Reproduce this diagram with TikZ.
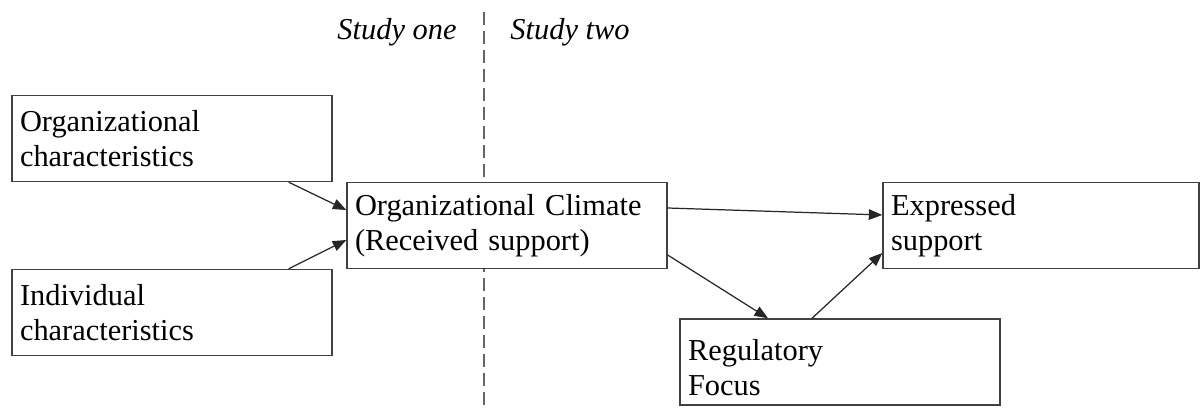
\documentclass[tikz,border=0pt]{standalone}
\usepackage{fontspec}
\setmainfont{Liberation Serif}
\usetikzlibrary{arrows.meta}

\begin{document}
\begin{tikzpicture}[x=0.02cm, y=-0.02cm,
        box/.style={rectangle, draw=black!75, line width=0.8pt, fill=white, minimum height=1.72cm, text width=6.08cm, inner xsep=0.16cm, align=left, font=\fontsize{17.3}{20}\selectfont},
        study/.style={font=\itshape\fontsize{17.3}{20}\selectfont},
        link/.style={-{Triangle[length=0.27cm, width=0.21cm]}, line width=0.7pt, black!85}]

            % Fix the size of the picture
            \useasboundingbox (0,0) rectangle (1201,408);

            % Draw the line between the two studies
            \coordinate (divtop) at (484,12);
            \coordinate (divbot) at (484,408);
            \draw[black!60, line width=0.8pt, dash pattern=on 0.26cm off 0.12cm] (divtop) -- (divbot);

            \node[study] (one) at (397,32) {Study one};
            \node[study] (two) at (570,32) {Study two};

            % Draw the boxes
            \node[box] (orgchar) at (172,138.5) {Organizational\\characteristics};
            \node[box] (indchar) at (172,312.5) {Individual\\characteristics};
            \node[box] (climate) at (507,225.5) {Organizational Climate\\(Received support)};
            \node[box, text width=6.0cm] (expressed) at (1041,225.5) {Expressed\\support};
            \node[box] (focus) at (840,362) {\rule{0pt}{18.5pt}Regulatory\\Focus};

            % Draw the arrows
            \draw[link] ([xshift=-0.88cm]orgchar.south east) -- ([yshift=0.31cm]climate.west);
            \draw[link] ([xshift=-0.88cm]indchar.north east) -- ([yshift=-0.29cm]climate.west);
            \draw[link] ([yshift=0.35cm]climate.east) -- ([yshift=0.21cm]expressed.west);
            \draw[link] ([yshift=-0.59cm]climate.east) -- ([xshift=-1.44cm]focus.north);
            \draw[link] ([xshift=-0.56cm]focus.north) -- ([yshift=-0.55cm]expressed.west);
        \end{tikzpicture}
\end{document}
